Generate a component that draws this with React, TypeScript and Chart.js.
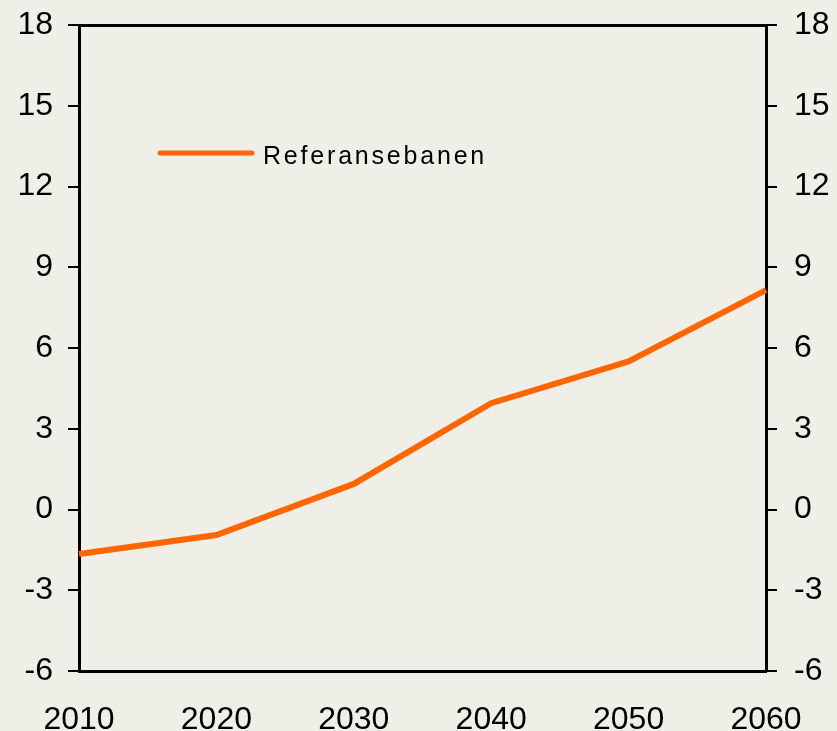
import React, { useEffect, useRef } from "react";
import { Chart, registerables } from "chart.js";

Chart.register(...registerables);

const years = ["2010", "2020", "2030", "2040", "2050", "2060"];
const referansebanen = [-1.65, -0.95, 0.95, 3.95, 5.5, 8.15];
const seriesLabel = "Referansebanen";
const yMin = -6;
const yMax = 18;
const yStep = 3;

const BG = "#efeee7";
const ORANGE = "#ff6600";
const FONT = "'Liberation Sans', Arial, sans-serif";

const legendPlugin = {
  id: "insideLegend",
  afterDraw(chart: any) {
    const ctx = chart.ctx;
    ctx.save();
    ctx.strokeStyle = ORANGE;
    ctx.lineWidth = 5;
    ctx.lineCap = "round";
    ctx.beginPath();
    ctx.moveTo(160, 153);
    ctx.lineTo(252, 153);
    ctx.stroke();
    ctx.fillStyle = "#000";
    ctx.font = `25px ${FONT}`;
    try {
      (ctx as any).letterSpacing = "2.8px";
    } catch (e) {}
    ctx.textBaseline = "middle";
    ctx.textAlign = "left";
    ctx.fillText(seriesLabel, 263, 157);
    ctx.restore();
  },
};

function fixY(width: number) {
  return (s: any) => {
    s.width = width;
    s.paddingTop = 0;
    s.paddingBottom = 0;
  };
}

export default function App() {
  const ref = useRef<HTMLCanvasElement | null>(null);
  useEffect(() => {
    document.body.style.margin = "0";
    document.body.style.background = BG;
    const canvas = ref.current!;
    const tickFont = { family: FONT, size: 32 };
    const chart = new Chart(canvas, {
      type: "line",
      data: {
        labels: years,
        datasets: [
          {
            label: seriesLabel,
            data: referansebanen,
            borderColor: ORANGE,
            backgroundColor: ORANGE,
            borderWidth: 6,
            pointRadius: 0,
            tension: 0,
            xAxisID: "x",
            yAxisID: "y",
          },
        ],
      },
      options: {
        animation: false,
        responsive: false,
        maintainAspectRatio: false,
        layout: { padding: { top: 25, left: 0, right: 0, bottom: 0 } },
        plugins: { legend: { display: false }, tooltip: { enabled: false } },
        scales: {
          x: {
            type: "category",
            position: "bottom",
            offset: false,
            grid: { display: false, drawTicks: false },
            border: { display: true, color: "#000", width: 3 },
            ticks: { font: tickFont, color: "#000", padding: 30, maxRotation: 0, autoSkip: false },
            afterFit(s: any) {
              s.height = 60;
              s.paddingLeft = 0;
              s.paddingRight = 0;
            },
          },
          x2: {
            type: "category",
            position: "top",
            labels: years,
            offset: false,
            grid: { display: false, drawTicks: false },
            border: { display: true, color: "#000", width: 3 },
            ticks: { display: false },
            afterFit(s: any) {
              s.height = 0;
              s.paddingLeft = 0;
              s.paddingRight = 0;
            },
          },
          y: {
            position: "left",
            min: yMin,
            max: yMax,
            grid: { drawOnChartArea: false, drawTicks: true, tickLength: 11, color: "#000", lineWidth: 2 },
            border: { display: true, color: "#000", width: 3 },
            ticks: { stepSize: yStep, font: tickFont, color: "#000", padding: 15 },
            afterFit: fixY(79),
          },
          y2: {
            position: "right",
            min: yMin,
            max: yMax,
            grid: { drawOnChartArea: false, drawTicks: true, tickLength: 11, color: "#000", lineWidth: 2 },
            border: { display: true, color: "#000", width: 3 },
            ticks: { stepSize: yStep, font: tickFont, color: "#000", padding: 17 },
            afterFit: fixY(71),
          },
        },
      } as any,
      plugins: [legendPlugin],
    });
    return () => chart.destroy();
  }, []);
  return (
    <div style={{ width: 837, height: 731, background: BG }}>
      <canvas ref={ref} width={837} height={731} style={{ display: "block" }} />
    </div>
  );
}
